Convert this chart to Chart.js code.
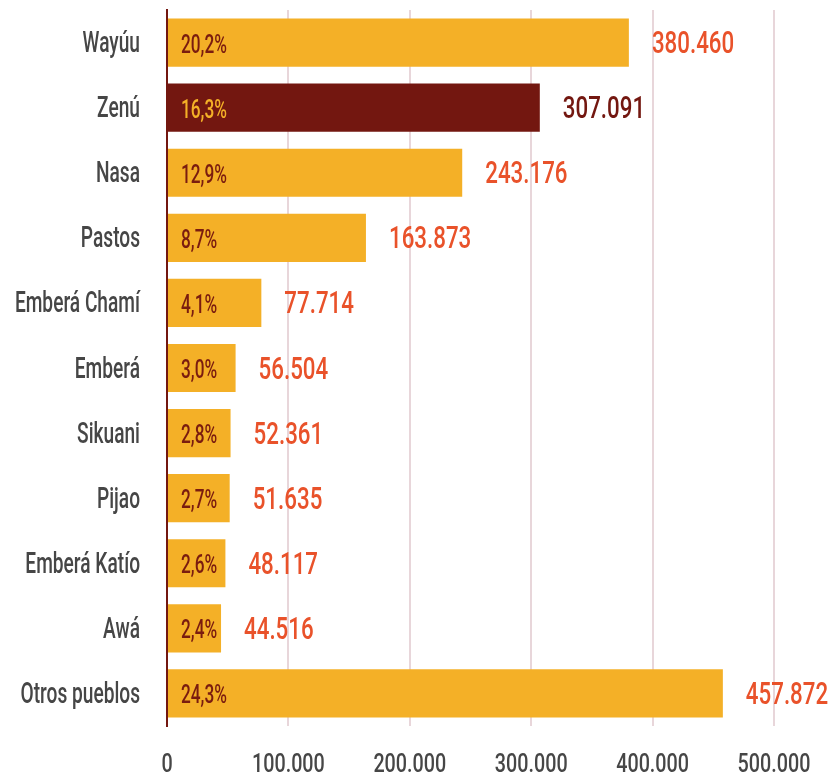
<!DOCTYPE html>
<html>
<head>
<meta charset="utf-8">
<script src="https://cdn.jsdelivr.net/npm/chart.js@4"></script>
<style>
  html, body { margin: 0; padding: 0; background: #ffffff; }
  #wrap { width: 828px; height: 774px; }
</style>
</head>
<body>
<div id="wrap"><canvas id="c" width="828" height="774"></canvas></div>
<script>
const categories = ["Wayúu", "Zenú", "Nasa", "Pastos", "Emberá Chamí", "Emberá", "Sikuani", "Pijao", "Emberá Katío", "Awá", "Otros pueblos"];
const population = [380460, 307091, 243176, 163873, 77714, 56504, 52361, 51635, 48117, 44516, 457872];
const shares = ["20,2%", "16,3%", "12,9%", "8,7%", "4,1%", "3,0%", "2,8%", "2,7%", "2,6%", "2,4%", "24,3%"];
const axisMax = 500000;
const axisStep = 100000;
const highlighted = "Zenú";

const FONT = 'Roboto, "DejaVu Sans Condensed", sans-serif';
const YELLOW = '#f4b027';
const DARKRED = '#731710';
const ORANGE = '#e9522a';
const PCT_DARK = '#7a1c0f';
const GREY = '#464646';

function fmt(n) {
  return String(n).replace(/\B(?=(\d{3})+(?!\d))/g, '.');
}

// condensed text: the reference uses a narrow display face
function ctext(ctx, text, x, y, align, sx) {
  ctx.save();
  ctx.translate(x, y);
  ctx.scale(sx, 1);
  ctx.textAlign = align;
  ctx.textBaseline = 'alphabetic';
  ctx.fillText(text, 0, 0);
  ctx.restore();
}

const barColors = categories.map(c => c === highlighted ? DARKRED : YELLOW);

const labelPlugin = {
  id: 'barLabels',
  afterDraw(chart) {
    const ctx = chart.ctx;
    const meta = chart.getDatasetMeta(0);
    const xs = chart.scales.x;
    const ys = chart.scales.y;
    ctx.save();
    // category labels (y axis)
    ctx.font = '500 29px ' + FONT;
    ctx.fillStyle = GREY;
    ys.ticks.forEach((t, i) => {
      const y = ys.getPixelForTick(i);
      ctext(ctx, ys.getLabelForValue(t.value), 140, y + 9.5, 'right', 0.66);
    });
    // value ticks (x axis)
    ctx.font = '500 25px ' + FONT;
    ctx.fillStyle = GREY;
    xs.ticks.forEach((t, i) => {
      const x = xs.getPixelForTick(i);
      ctext(ctx, fmt(t.value), x, 772, 'center', 0.79);
    });
    // bar labels
    meta.data.forEach((bar, i) => {
      const isHi = categories[i] === highlighted;
      ctx.font = '500 25px ' + FONT;
      ctx.fillStyle = isHi ? YELLOW : PCT_DARK;
      ctext(ctx, shares[i], bar.base + 13, bar.y + 10, 'left', 0.69);
      ctx.font = '500 31px ' + FONT;
      ctx.fillStyle = isHi ? DARKRED : ORANGE;
      ctext(ctx, fmt(population[i]), bar.x + 23, bar.y + 10.5, 'left', 0.72);
    });
    ctx.restore();
  }
};

new Chart(document.getElementById('c'), {
  type: 'bar',
  data: {
    labels: categories,
    datasets: [{
      data: population,
      backgroundColor: barColors,
      borderWidth: 0,
      barPercentage: 0.74,
      categoryPercentage: 1.0
    }]
  },
  options: {
    indexAxis: 'y',
    responsive: false,
    animation: false,
    devicePixelRatio: 1,
    layout: { padding: { top: 10, right: 54, bottom: 0, left: 0 } },
    plugins: {
      legend: { display: false },
      tooltip: { enabled: false }
    },
    scales: {
      x: {
        min: 0,
        max: axisMax,
        border: { display: false },
        grid: { color: '#e8d6da', lineWidth: 2, drawTicks: false },
        ticks: { stepSize: axisStep, display: false },
        afterFit(scale) { scale.height = 48; }
      },
      y: {
        border: { display: true, color: DARKRED, width: 2 },
        grid: { display: false, drawTicks: false },
        ticks: { display: false },
        afterFit(scale) { scale.width = 167; }
      }
    }
  },
  plugins: [labelPlugin]
});
</script>
</body>
</html>
